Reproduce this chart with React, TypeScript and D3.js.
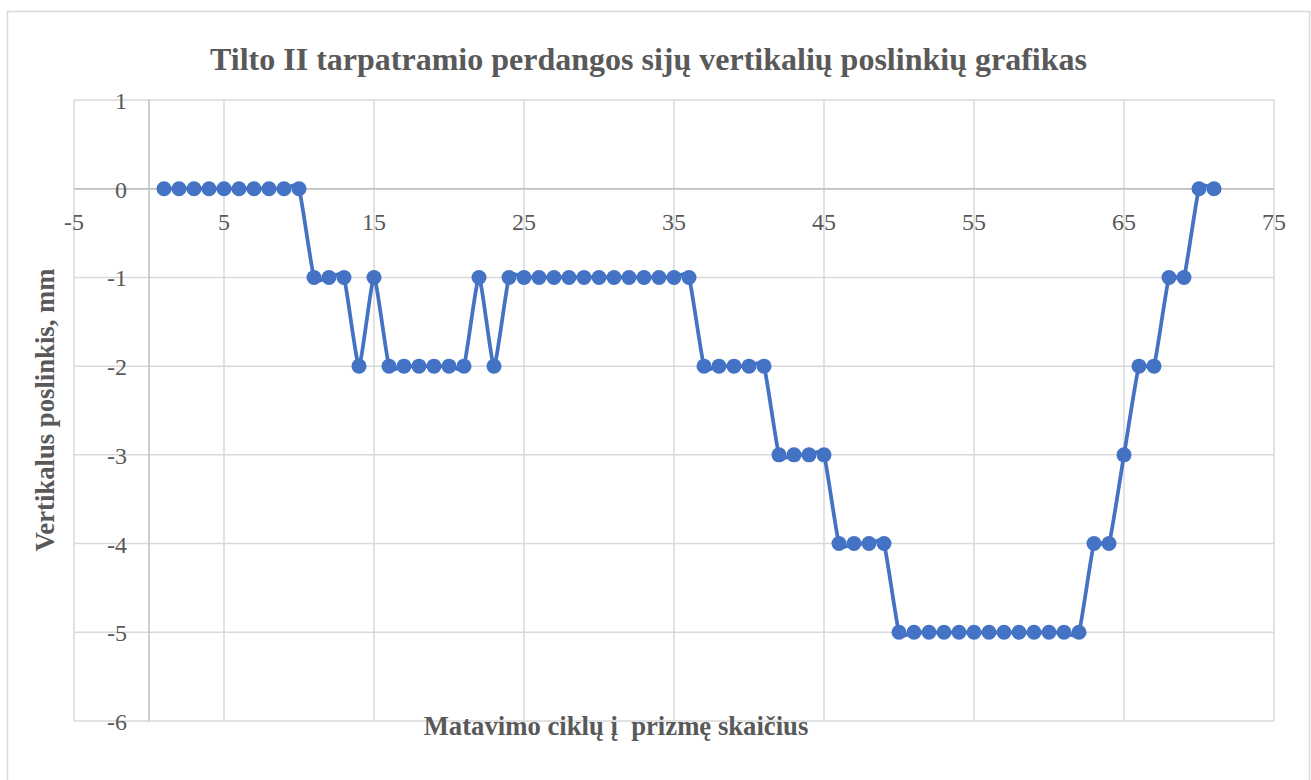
import React from "react";
import * as d3 from "d3";

const cycles: number[] = Array.from({ length: 71 }, (_, i) => i + 1);
const displacement: number[] = [
  0, 0, 0, 0, 0, 0, 0, 0, 0, 0,
  -1, -1, -1, -2, -1, -2, -2, -2, -2, -2,
  -2, -1, -2, -1, -1, -1, -1, -1, -1, -1,
  -1, -1, -1, -1, -1, -1, -2, -2, -2, -2,
  -2, -3, -3, -3, -3, -4, -4, -4, -4, -5,
  -5, -5, -5, -5, -5, -5, -5, -5, -5, -5,
  -5, -5, -4, -4, -3, -2, -2, -1, -1, 0,
  0,
];
const xTicks: number[] = [-5, 5, 15, 25, 35, 45, 55, 65, 75];
const yTicks: number[] = [1, 0, -1, -2, -3, -4, -5, -6];

const title = "Tilto II tarpatramio perdangos sijų vertikalių poslinkių grafikas";
const xTitle = "Matavimo ciklų į  prizmę skaičius";
const yTitle = "Vertikalus poslinkis, mm";

const W = 1311;
const H = 780;
const FONT = "'Liberation Serif', 'Times New Roman', serif";
const TEXT = "#595959";
const GRID = "#d9d9d9";
const AXIS = "#bfbfbf";
const BLUE = "#4472C4";

export default function App() {
  const x = d3.scaleLinear().domain([-5, 75]).range([74, 1274]);
  const y = d3.scaleLinear().domain([-6, 1]).range([721, 100]);
  const pts = cycles.map((c, i) => [c, displacement[i]] as [number, number]);
  const line = d3
    .line<[number, number]>()
    .x((d) => x(d[0]))
    .y((d) => y(d[1]))
    .curve(d3.curveCardinal.tension(0.5));
  const xGrid = d3.range(-5, 76, 10);
  return (
    <svg
      width={W}
      height={H}
      style={{ position: "absolute", left: 0, top: 0, background: "#fff" }}
      fontFamily={FONT}
    >
      <rect x={0} y={0} width={W} height={H} fill="#fff" />
      <rect x={7.5} y={11.5} width={1302} height={800} fill="none" stroke={GRID} strokeWidth={1.5} />
      {yTicks.map((t) => (
        <line key={"h" + t} x1={x(-5)} x2={x(75)} y1={y(t)} y2={y(t)} stroke={t === 0 ? AXIS : GRID} strokeWidth={1.5} />
      ))}
      {xGrid.map((t) => (
        <line key={"v" + t} x1={x(t)} x2={x(t)} y1={y(1)} y2={y(-6)} stroke={GRID} strokeWidth={1.5} />
      ))}
      <line x1={x(0)} x2={x(0)} y1={y(1)} y2={y(-6)} stroke={AXIS} strokeWidth={1.5} />
      <line x1={x(-5)} x2={x(75)} y1={y(0)} y2={y(0)} stroke={AXIS} strokeWidth={1.5} />
      {yTicks.map((t) => (
        <text key={"yl" + t} x={x(0) - 22} y={y(t) + 9} textAnchor="end" fontSize={24} fill={TEXT}>
          {t}
        </text>
      ))}
      {xTicks.map((t) => (
        <text key={"xl" + t} x={x(t)} y={y(0) + 41} textAnchor="middle" fontSize={24} fill={TEXT}>
          {t}
        </text>
      ))}
      <path d={line(pts) || ""} fill="none" stroke={BLUE} strokeWidth={3.75} strokeLinejoin="round" />
      {pts.map((p, i) => (
        <circle key={"c" + i} cx={x(p[0])} cy={y(p[1])} r={7.5} fill={BLUE} />
      ))}
      <text x={648.5} y={70} textAnchor="middle" fontSize={32} fontWeight="bold" fill={TEXT}>
        {title}
      </text>
      <text x={616} y={735} textAnchor="middle" fontSize={26.7} fontWeight="bold" fill={TEXT} style={{ whiteSpace: "pre" }}>
        {xTitle}
      </text>
      <text
        transform={`translate(54, 410) rotate(-90)`}
        textAnchor="middle"
        fontSize={26.7}
        fontWeight="bold"
        fill={TEXT}
      >
        {yTitle}
      </text>
    </svg>
  );
}
